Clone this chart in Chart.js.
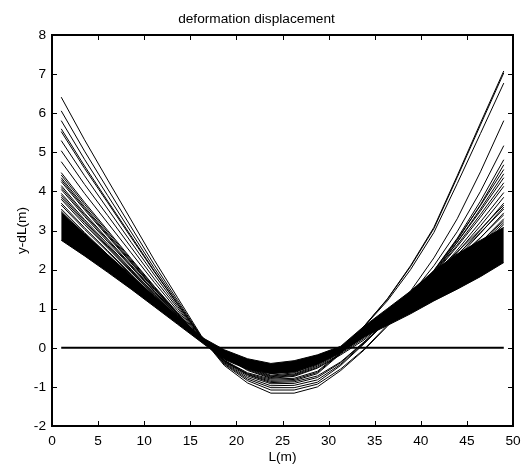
<!DOCTYPE html>
<html>
<head>
<meta charset="utf-8">
<script src="https://cdn.jsdelivr.net/npm/chart.js@4/dist/chart.umd.min.js"></script>
<style>
  html, body { margin: 0; padding: 0; background: #fff; }
  #wrap { width: 528px; height: 466px; }
</style>
</head>
<body>
<div id="wrap"><canvas id="chart" width="528" height="466"></canvas></div>
<script>
// stations along L (m), one per node of every profile
const stations = [1, 3.53, 6.05, 8.58, 11.11, 13.63, 16.16, 18.68, 21.21, 23.74, 26.26, 28.79, 31.32, 33.84, 36.37, 38.89, 41.42, 43.95, 46.47, 49];

// the dense black band (lower and upper edge)
const bandBottom = [2.75, 2.35, 1.93, 1.5, 1.05, 0.6, 0.15, -0.3, -0.55, -0.66, -0.62, -0.42, -0.12, 0.28, 0.57, 0.87, 1.2, 1.5, 1.82, 2.18];
const bandTop = [3.46, 2.92, 2.38, 1.85, 1.32, 0.8, 0.28, -0.05, -0.28, -0.4, -0.33, -0.18, 0.04, 0.55, 1.0, 1.45, 1.97, 2.4, 2.75, 3.08];

// single profiles outside the band
const line01 = [6.41, 5.32, 4.29, 3.27, 2.24, 1.28, 0.32, -0.35, -0.68, -0.86, -0.84, -0.66, -0.15, 0.55, 1.25, 2.1, 3.08, 4.4, 5.75, 7.08];
const line02 = [6.06, 5.03, 4.06, 3.09, 2.12, 1.21, 0.3, -0.33, -0.66, -0.83, -0.81, -0.63, -0.13, 0.55, 1.24, 2.08, 3.05, 4.36, 5.7, 7.03];
const line03 = [5.81, 4.82, 3.89, 2.96, 2.03, 1.16, 0.29, -0.32, -0.64, -0.8, -0.78, -0.6, -0.12, 0.54, 1.2, 2.0, 2.95, 4.2, 5.48, 6.77];
const line04 = [5.6, 4.65, 3.75, 2.86, 1.96, 1.12, 0.28, -0.45, -0.9, -1.16, -1.16, -1.0, -0.58, -0.06, 0.55, 1.2, 1.9, 2.7, 3.55, 4.45];
const line05 = [5.53, 4.59, 3.71, 2.82, 1.94, 1.11, 0.28, -0.42, -0.84, -1.08, -1.08, -0.93, -0.54, -0.04, 0.58, 1.25, 1.97, 2.78, 3.64, 4.56];
const line06 = [5.3, 4.4, 3.55, 2.7, 1.86, 1.06, 0.27, -0.4, -0.8, -1.02, -1.02, -0.88, -0.45, 0.1, 0.7, 1.45, 2.3, 3.3, 4.5, 5.81];
const line07 = [5.04, 4.18, 3.38, 2.57, 1.76, 1.01, 0.25, -0.38, -0.76, -0.97, -0.96, -0.82, -0.42, 0.12, 0.68, 1.35, 2.1, 2.97, 4.0, 5.17];
const line08 = [4.76, 3.95, 3.19, 2.43, 1.67, 0.95, 0.24, -0.36, -0.72, -0.92, -0.91, -0.76, -0.38, 0.14, 0.68, 1.3, 1.98, 2.8, 3.75, 4.81];
const line09 = [4.48, 3.72, 3.0, 2.28, 1.57, 0.9, 0.22, -0.33, -0.69, -0.89, -0.87, -0.72, -0.36, 0.15, 0.68, 1.28, 1.95, 2.75, 3.66, 4.68];
const line10 = [4.42, 3.67, 2.96, 2.25, 1.55, 0.88, 0.22, -0.22, -0.58, -0.78, -0.73, -0.52, -0.18, 0.2, 0.7, 1.26, 1.93, 2.7, 3.5, 4.35];
const line11 = [4.35, 3.61, 2.91, 2.22, 1.52, 0.87, 0.22, -0.2, -0.56, -0.76, -0.71, -0.5, -0.15, 0.24, 0.72, 1.26, 1.9, 2.63, 3.41, 4.22];
const line12 = [4.25, 3.53, 2.85, 2.17, 1.49, 0.85, 0.21, -0.18, -0.54, -0.74, -0.69, -0.47, -0.12, 0.27, 0.74, 1.26, 1.88, 2.59, 3.34, 4.13];
const line13 = [4.15, 3.44, 2.78, 2.12, 1.45, 0.83, 0.21, -0.16, -0.52, -0.72, -0.67, -0.44, -0.1, 0.29, 0.74, 1.24, 1.83, 2.5, 3.22, 3.97];
const line14 = [4.05, 3.36, 2.71, 2.07, 1.42, 0.81, 0.2, -0.15, -0.5, -0.7, -0.64, -0.41, -0.07, 0.32, 0.75, 1.23, 1.8, 2.44, 3.12, 3.85];
const line15 = [3.95, 3.28, 2.65, 2.01, 1.38, 0.79, 0.2, -0.13, -0.47, -0.66, -0.6, -0.37, -0.05, 0.34, 0.75, 1.2, 1.75, 2.36, 3.01, 3.7];
const line16 = [3.85, 3.2, 2.58, 1.96, 1.35, 0.77, 0.19, -0.12, -0.44, -0.62, -0.56, -0.34, -0.03, 0.36, 0.75, 1.18, 1.71, 2.3, 2.93, 3.6];
const line17 = [3.7, 3.07, 2.48, 1.89, 1.3, 0.74, 0.19, -0.1, -0.39, -0.55, -0.5, -0.3, -0.02, 0.38, 0.75, 1.15, 1.65, 2.21, 2.81, 3.45];
const line18 = [3.55, 2.95, 2.38, 1.81, 1.24, 0.71, 0.18, -0.08, -0.34, -0.48, -0.43, -0.26, 0.0, 0.4, 0.75, 1.12, 1.6, 2.12, 2.69, 3.3];
const line19 = [4.3, 3.57, 2.88, 2.19, 1.51, 0.86, 0.22, -0.15, -0.43, -0.6, -0.55, -0.36, -0.06, 0.44, 0.88, 1.35, 1.9, 2.45, 3.03, 3.65];
const line20 = [4.1, 3.4, 2.75, 2.09, 1.44, 0.82, 0.2, -0.14, -0.4, -0.56, -0.52, -0.34, -0.06, 0.43, 0.85, 1.31, 1.85, 2.38, 2.95, 3.55];
const line21 = [3.9, 3.24, 2.61, 1.99, 1.37, 0.78, 0.2, -0.13, -0.37, -0.52, -0.48, -0.31, -0.05, 0.41, 0.82, 1.26, 1.77, 2.28, 2.82, 3.4];
const line22 = [3.8, 3.15, 2.55, 1.94, 1.33, 0.76, 0.19, -0.12, -0.36, -0.5, -0.46, -0.3, -0.05, 0.39, 0.78, 1.2, 1.69, 2.18, 2.7, 3.25];
const line23 = [3.65, 3.03, 2.45, 1.86, 1.28, 0.73, 0.18, -0.11, -0.33, -0.46, -0.42, -0.28, -0.05, 0.38, 0.76, 1.17, 1.64, 2.11, 2.61, 3.15];
const line24 = [3.5, 2.91, 2.35, 1.79, 1.23, 0.7, 0.18, -0.11, -0.32, -0.44, -0.4, -0.26, -0.04, 0.38, 0.77, 1.18, 1.66, 2.14, 2.66, 3.2];

// reference line y = 0
const zeroX = [1, 49];
const zeroY = [0, 0];

// axis ticks
const xTicks = [0, 5, 10, 15, 20, 25, 30, 35, 40, 45, 50];
const yTicks = [-2, -1, 0, 1, 2, 3, 4, 5, 6, 7, 8];

const FONT = 'Liberation Sans, Arial, sans-serif';
const FONT_SIZE = 13.7;

function toPoints(xs, ys) {
  return xs.map((x, i) => ({ x: x, y: ys[i] }));
}

function profile(values) {
  return {
    data: toPoints(stations, values),
    borderColor: '#000',
    borderWidth: 1,
    pointRadius: 0,
    tension: 0,
    fill: false
  };
}

// matlab style box with inward ticks on all four sides
const boxPlugin = {
  id: 'box',
  afterDatasetsDraw(chart) {
    const { ctx, chartArea: a, scales } = chart;
    const len = 5;
    ctx.save();
    ctx.strokeStyle = '#000';
    ctx.lineWidth = 1;
    ctx.beginPath();
    xTicks.forEach(v => {
      const px = Math.round(scales.x.getPixelForValue(v)) + 0.5;
      ctx.moveTo(px, a.bottom); ctx.lineTo(px, a.bottom - len);
      ctx.moveTo(px, a.top); ctx.lineTo(px, a.top + len);
    });
    yTicks.forEach(v => {
      const py = Math.round(scales.y.getPixelForValue(v)) + 0.5;
      ctx.moveTo(a.left, py); ctx.lineTo(a.left + len, py);
      ctx.moveTo(a.right, py); ctx.lineTo(a.right - len, py);
    });
    ctx.stroke();
    ctx.lineWidth = 2;
    ctx.strokeRect(a.left, a.top, a.right - a.left, a.bottom - a.top);
    ctx.restore();
  }
};

const profiles = [
  line24, line23, line22, line21, line20, line19,
  line18, line17, line16, line15, line14, line13, line12, line11,
  line10, line09, line08, line07, line06, line05, line04, line03,
  line02, line01
];

const datasets = [
  profile(bandBottom),
  Object.assign(profile(bandTop), { fill: '-1', backgroundColor: '#000' })
].concat(profiles.map(profile), [{
  data: toPoints(zeroX, zeroY),
  borderColor: '#000',
  borderWidth: 2,
  pointRadius: 0,
  fill: false
}]);

new Chart(document.getElementById('chart'), {
  type: 'line',
  data: { datasets: datasets },
  plugins: [boxPlugin],
  options: {
    responsive: false,
    animation: false,
    events: [],
    layout: { padding: { left: 0, right: 15, top: 0, bottom: 0 } },
    plugins: {
      legend: { display: false },
      tooltip: { enabled: false },
      title: {
        display: true,
        text: 'deformation displacement',
        color: '#000',
        font: { family: FONT, size: FONT_SIZE, weight: 'normal' },
        padding: { top: 11, bottom: 7.56 }
      }
    },
    scales: {
      x: {
        type: 'linear',
        min: 0,
        max: 50,
        afterBuildTicks: s => { s.ticks = xTicks.map(v => ({ value: v })); },
        afterFit: s => { s.height = 40; },
        grid: { display: false, drawTicks: false },
        border: { display: false },
        ticks: { color: '#000', padding: 7, maxRotation: 0, font: { family: FONT, size: FONT_SIZE } },
        title: {
          display: true,
          text: 'L(m)',
          color: '#000',
          font: { family: FONT, size: FONT_SIZE },
          padding: { top: 0, bottom: 0.8 }
        }
      },
      y: {
        type: 'linear',
        min: -2,
        max: 8,
        afterBuildTicks: s => { s.ticks = yTicks.map(v => ({ value: v })); },
        afterFit: s => { s.width = 52; },
        grid: { display: false, drawTicks: false },
        border: { display: false },
        ticks: { color: '#000', padding: 6, font: { family: FONT, size: FONT_SIZE } },
        title: {
          display: true,
          text: 'y-dL(m)',
          color: '#000',
          font: { family: FONT, size: FONT_SIZE },
          padding: { top: 13.8, bottom: 0 }
        }
      }
    }
  }
});
</script>
</body>
</html>
